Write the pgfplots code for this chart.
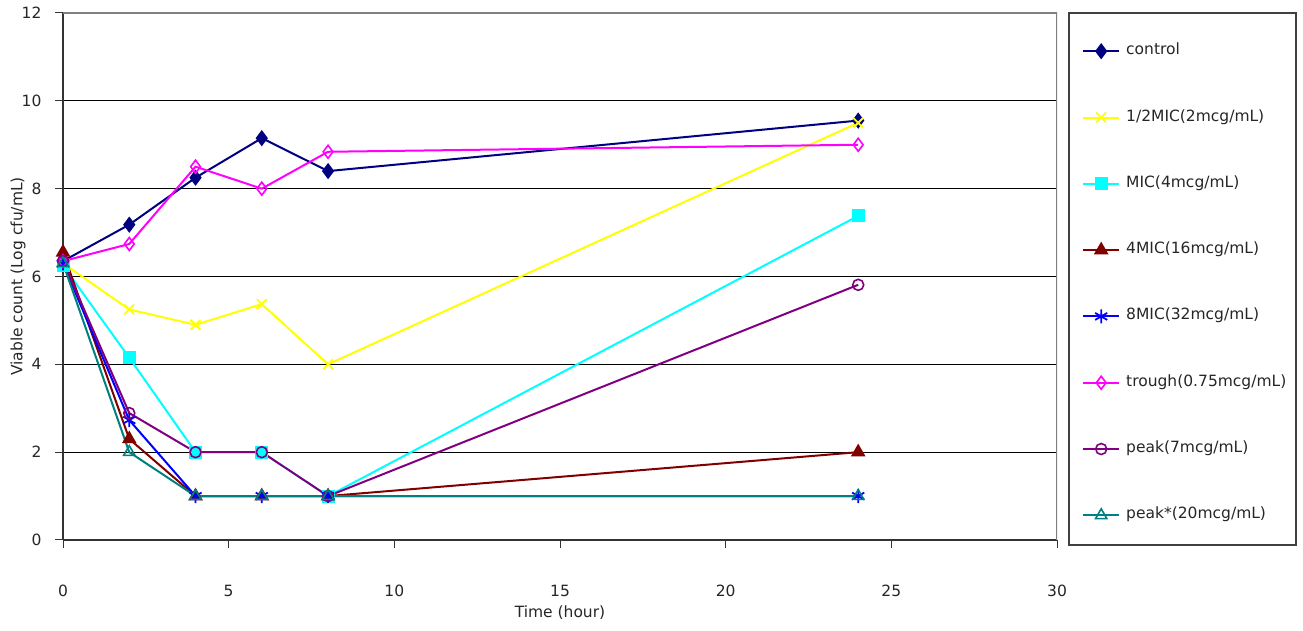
\documentclass[border=0pt]{standalone}
\usepackage{fontspec}
\setmainfont{DejaVu Sans}
\usepackage{pgfplots}
\pgfplotsset{compat=1.18}
\usetikzlibrary{plotmarks}

\definecolor{cControl}{HTML}{000080}
\definecolor{cHalf}{HTML}{FFFF00}
\definecolor{cMIC}{HTML}{00FFFF}
\definecolor{cFour}{HTML}{800000}
\definecolor{cEight}{HTML}{0000FF}
\definecolor{cTrough}{HTML}{FF00FF}
\definecolor{cPeak}{HTML}{800080}
\definecolor{cPeakS}{HTML}{008080}
\definecolor{axisgray}{HTML}{808080}

\newcommand{\chartfont}{\fontsize{15.5}{18}\selectfont}

\begin{document}
\begin{tikzpicture}[x=1pt,y=1pt]
\useasboundingbox (0,0) rectangle (1303,631);
\begin{axis}[
  at={(63pt,91pt)}, anchor=south west,
  width=994pt, height=527pt, scale only axis,
  xmin=0, xmax=30, ymin=0, ymax=12,
  xtick={0,5,...,30}, ytick={0,2,...,12},
  axis lines*=left,
  axis line style={draw=black!80, line width=1.2pt},
  tick align=outside, major tick length=8pt,
  tick style={black!80, line width=1pt},
  ymajorgrids, grid style={black, line width=0.9pt},
  /pgf/number format/assume math mode=true,
  ticklabel style={font=\chartfont, text=black!85},
  xticklabel style={anchor=center, yshift=-43pt},
  yticklabel style={xshift=-10pt},
  xlabel={Time (hour)}, ylabel={Viable count (Log cfu/mL)},
  label style={font=\chartfont, text=black!85},
  xlabel style={at={(axis description cs:0.5,0)}, anchor=center, yshift=-73pt},
  ylabel style={at={(axis description cs:-0.04527,0.5)}, anchor=center},
  every axis plot/.append style={line width=2pt},
  legend cell align=left,
  legend style={draw=none, fill=none, at={(1.02515,0.9421)}, anchor=north west,
    inner sep=0pt, column sep=6pt, row sep=51.3pt, font=\chartfont,
    nodes={inner sep=0pt, text height=11pt, text depth=4pt, text=black!85}},
  legend image code/.code={%
    \draw[mark repeat=2, mark phase=2, #1] plot coordinates {(0pt,0pt) (18pt,0pt) (36pt,0pt)};},
]
\addplot[cControl, mark=diamond*, mark size=6.5pt, mark options={solid, fill=cControl}]
  coordinates {(0,6.35) (2,7.18) (4,8.25) (6,9.15) (8,8.40) (24,9.55)};
\addlegendentry{control}
\addplot[cHalf, mark=x, mark size=7pt, mark options={solid, line width=1.8pt}]
  coordinates {(0,6.30) (2,5.25) (4,4.90) (6,5.37) (8,4.00) (24,9.50)};
\addlegendentry{1/2MIC(2mcg/mL)}
\addplot[cMIC, mark=square*, mark size=5.5pt, mark options={solid, fill=cMIC}]
  coordinates {(0,6.25) (2,4.15) (4,2.00) (6,2.00) (8,1.00) (24,7.38)};
\addlegendentry{MIC(4mcg/mL)}
\addplot[cFour, mark=triangle*, mark size=6.5pt, mark options={solid, fill=cFour}]
  coordinates {(0,6.55) (2,2.30) (4,1.00) (6,1.00) (8,1.00) (24,2.00)};
\addlegendentry{4MIC(16mcg/mL)}
\addplot[cEight, mark=asterisk, mark size=7pt, mark options={solid, line width=1.8pt}]
  coordinates {(0,6.30) (2,2.73) (4,1.00) (6,1.00) (8,1.00) (24,1.00)};
\addlegendentry{8MIC(32mcg/mL)}
\addplot[cTrough, mark=diamond, mark size=6.5pt, mark options={solid, fill=white, line width=1.6pt}]
  coordinates {(0,6.35) (2,6.74) (4,8.50) (6,8.00) (8,8.84) (24,9.00)};
\addlegendentry{trough(0.75mcg/mL)}
\addplot[cPeak, mark=o, mark size=5.5pt, mark options={solid, line width=1.6pt}]
  coordinates {(0,6.35) (2,2.89) (4,2.00) (6,2.00) (8,1.00) (24,5.81)};
\addlegendentry{peak(7mcg/mL)}
\addplot[cPeakS, mark=triangle, mark size=6.5pt, mark options={solid, line width=1.6pt}]
  coordinates {(0,6.30) (2,2.00) (4,1.00) (6,1.00) (8,1.00) (24,1.00)};
\addlegendentry{peak*(20mcg/mL)}
% grey frame on the top and right of the plot area
\draw[axisgray, line width=1.4pt] (rel axis cs:0,1) -- (rel axis cs:1,1) -- (rel axis cs:1,0) -- ++(0,-8pt);
\end{axis}
% frame round the legend
\draw[black!75, line width=1.1pt] (1069,86) rectangle (1296,618);
\end{tikzpicture}
\end{document}
